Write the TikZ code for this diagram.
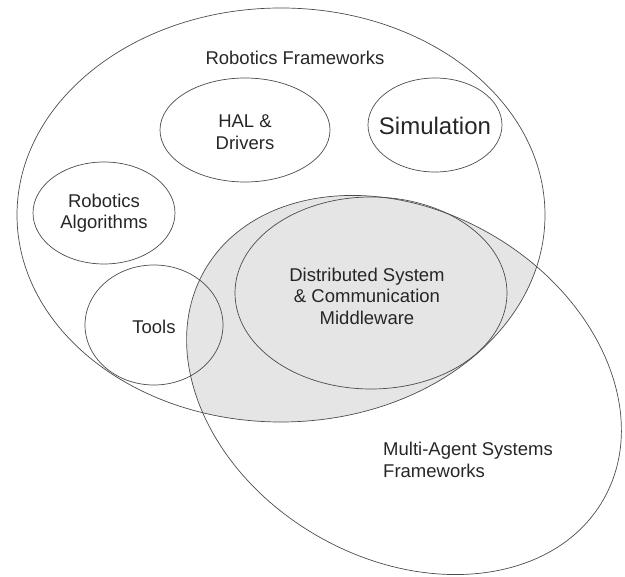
\documentclass[tikz,border=0pt]{standalone}
\usepackage{fontspec}
\setmainfont{Liberation Sans}
\begin{document}
\begin{tikzpicture}[x=1pt,y=-1pt]
\tikzset{set/.style={draw=black!70, line width=0.7pt},
  lbl/.style={font=\fontsize{18.5}{21.5}\selectfont, text=black!85, align=center, inner sep=0pt}}
\useasboundingbox (0,0) rectangle (625,577);

% shaded overlap of the two frameworks
\begin{scope}
\clip (281,215) ellipse [x radius=264, y radius=207];
\fill[black!10, rotate around={-30:(404,385)}] (404,385) ellipse [x radius=230, y radius=174];
\end{scope}

\draw[set] (281,215) ellipse [x radius=264, y radius=207];
\draw[set, rotate around={-30:(404,385)}] (404,385) ellipse [x radius=230, y radius=174];
\draw[set] (245,130) ellipse [x radius=85, y radius=52];
\draw[set] (435,125) ellipse [x radius=67, y radius=47];
\draw[set] (104,213) ellipse [x radius=71, y radius=51];
\draw[set] (154,325) ellipse [x radius=69, y radius=60];
\draw[set] (371,293) ellipse [x radius=136, y radius=96];

\node[lbl] (rf) at (295,58) {Robotics Frameworks};
\node[lbl] (hal) at (245,132) {HAL \&\\Drivers};
\node[lbl, font=\fontsize{24}{26}\selectfont] (sim) at (435,126) {Simulation};
\node[lbl] (alg) at (104,213) {Robotics\\Algorithms};
\node[lbl] (tools) at (154,327) {Tools};
\node[lbl] (mw) at (367,296) {Distributed System\\\& Communication\\Middleware};
\node[lbl, align=left, anchor=west] (mas) at (383,460) {Multi-Agent Systems\\Frameworks};
\end{tikzpicture}
\end{document}
